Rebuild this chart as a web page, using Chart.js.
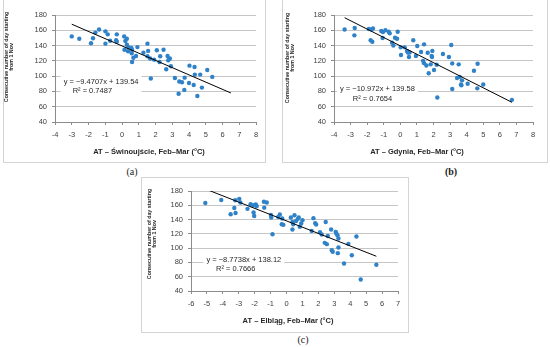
<!DOCTYPE html>
<html>
<head>
<meta charset="utf-8">
<script src="https://cdn.jsdelivr.net/npm/chart.js@4.4.0/dist/chart.umd.min.js"></script>
<style>
body { margin: 0; background: #fff; width: 550px; height: 347px; overflow: hidden; position: relative; }
.box { position: absolute; border: 1px solid #d4d4d4; box-sizing: border-box; }
canvas { position: absolute; }
.cap { position: absolute; font-family: "Liberation Serif", serif; font-size: 10px; color: #222; transform: translateX(-50%); }
</style>
</head>
<body>
<div class="box" style="left:3px;top:-1px;width:263px;height:164px"></div>
<div class="box" style="left:282px;top:-1px;width:266px;height:164px"></div>
<div class="box" style="left:141px;top:177px;width:268px;height:156px"></div>
<canvas id="ca" width="261" height="162" style="left:4px;top:0"></canvas>
<canvas id="cb" width="264" height="162" style="left:283px;top:0"></canvas>
<canvas id="cc" width="266" height="154" style="left:142px;top:178px"></canvas>
<div class="cap" style="left:132px;top:166px">(a)</div>
<div class="cap" style="left:451px;top:166px;font-weight:bold">(b)</div>
<div class="cap" style="left:303px;top:334px">(c)</div>
<script>
// (a) Świnoujście
const swiX = [-3.0, -2.55, -1.85, -1.73, -1.59, -1.37, -0.99, -0.99, -0.85, -0.71, -0.35, -0.31, -0.31, 0.13, 0.15, 0.2, 0.29, 0.29, 0.36, 0.38,
    0.56, 0.6, 0.58, 0.68, 0.6, 0.84, 0.92, 1.28, 1.52, 1.56, 1.52, 1.68, 1.72, 1.92, 2.08, 2.24, 2.28, 2.48, 2.64, 2.72,
    2.76, 2.86, 2.92, 3.16, 3.42, 3.38, 3.58, 3.72, 3.74, 4.03, 4.0, 4.28, 4.33, 4.35, 4.5, 4.67, 4.77, 5.09, 5.39];
const swiY = [152, 149, 143, 149.5, 157, 161, 158.6, 142.5, 154.7, 146.4, 147, 154.7, 145, 152, 134.6, 146, 149, 141, 132.5, 138,
    137, 134.6, 130, 124, 118.5, 126.4, 138, 130.7, 142.5, 133, 126, 123, 97, 121.6, 133.8, 118.5, 126, 134.6, 109, 126.4,
    120.7, 123, 113, 97.6, 93, 77, 92, 82, 98, 113.7, 91, 88.4, 112, 102, 74, 102, 85, 108, 99];
const swiFit = { a: -9.4707, b: 139.54, r2: "0.7487", from: -3.0, to: 6.5 };

// (b) Gdynia
const gdyX = [-3.36, -2.75, -2.77, -1.9, -1.73, -1.65, -1.79, -1.69, -1.15, -1.05, -0.9, -1.07, -0.7, -0.64, -0.16, -0.5, -0.42, -0.32, -0.2, 0.02,
    0.04, 0.26, 0.4, 0.46, 0.56, 0.52, 0.78, 0.94, 1.02, 1.25, 1.37, 1.43, 1.43, 1.57, 1.65, 1.71, 1.83, 1.89, 1.93, 1.91,
    2.03, 2.19, 2.23, 2.57, 2.93, 3.07, 3.13, 3.13, 3.42, 3.52, 3.58, 3.66, 3.68, 3.72, 4.06, 4.44, 4.64, 4.66, 5.0, 6.73];
const gdyY = [161, 163, 153.4, 161.7, 161, 162.5, 147, 145, 159, 157.8, 160, 150, 158, 156, 158, 143.8, 140, 150.3, 149, 137.7,
    127.7, 137.7, 133, 131, 131, 125, 147, 126.4, 139.4, 131.6, 120, 141.6, 117, 114, 130.7, 103.7, 115.4, 126.4, 133, 125,
    108, 115, 72, 129, 125, 140.7, 116.7, 83.2, 97.6, 115.4, 99, 89, 88, 94.5, 90, 107, 84, 116.3, 89, 69];
const gdyFit = { a: -10.972, b: 139.58, r2: "0.7654", from: -3.36, to: 6.73 };

// (c) Elbląg
const elbX = [-5.1, -4.1, -3.51, -3.28, -3.2, -3.22, -2.97, -2.9, -2.45, -2.26, -2.1, -2.07, -2.03, -1.93, -1.88, -1.42, -1.4, -1.24, -0.98, -0.96,
    -0.88, -0.42, -0.52, -0.27, -0.3, -0.2, 0.27, 0.37, 0.42, 0.37, 0.5, 0.6, 0.71, 0.77, 0.83, 0.92, 1.0, 1.58, 1.69, 1.86,
    1.8, 2.1, 2.21, 2.4, 2.46, 2.53, 2.59, 2.8, 2.84, 2.9, 3.09, 3.13, 3.2, 3.26, 3.26, 3.22, 3.61, 3.88, 4.1, 4.39, 4.66, 5.64];
const elbY = [163.3, 167.4, 147.4, 156.3, 149.3, 167, 169, 164, 155, 161.4, 160, 149.8, 145, 161, 158.6, 165, 156.7, 164, 146.5, 143,
    119.5, 147, 143.7, 141.4, 133.5, 132.6, 143, 136.7, 133.5, 126, 146, 138, 141, 142.8, 130, 134.4, 139, 124, 142, 133,
    135, 122.3, 119, 107.4, 136.7, 105.6, 117, 126, 97, 95, 122.8, 120.5, 118, 113.5, 101, 93, 78.6, 106, 90, 116.3, 56, 76.7];
const elbFit = { a: -8.7738, b: 138.12, r2: "0.7666", from: -5.1, to: 5.64 };

const yTitle = ["Consecutive number of day starting", "from 1 Nov"];

Chart.defaults.font.family = "'Liberation Sans', Arial, sans-serif";

const textPlugin = {
    id: "texts",
    beforeDatasetsDraw(chart, args, o) {
        const ctx = chart.ctx;
        const sx = chart.scales.x, sy = chart.scales.y;
        ctx.save();
        ctx.font = "7.5px 'Liberation Sans'";
        const w = ctx.measureText(o.eq).width;
        const cx = sx.getPixelForValue(o.eqAt[0]);
        const y1 = sy.getPixelForValue(o.eqAt[1]);
        const y2 = sy.getPixelForValue(o.r2At[1]);
        ctx.fillStyle = "#fff";
        ctx.fillRect(cx - w / 2 - 3, y1 - 6, w + 6, y2 - y1 + 12);
        ctx.restore();
    },
    afterDatasetsDraw(chart, args, o) {
        const ctx = chart.ctx;
        const sx = chart.scales.x, sy = chart.scales.y;
        ctx.save();
        ctx.fillStyle = "#262626";
        ctx.textAlign = "center";
        ctx.textBaseline = "middle";
        ctx.font = "7.5px 'Liberation Sans'";
        ctx.fillText(o.eq, sx.getPixelForValue(o.eqAt[0]), sy.getPixelForValue(o.eqAt[1]));
        ctx.fillText("R² = " + o.r2, sx.getPixelForValue(o.r2At[0]), sy.getPixelForValue(o.r2At[1]));

        ctx.font = "bold 7.5px 'Liberation Sans'";
        ctx.fillText(o.xTitle, o.xTitlePos[0], o.xTitlePos[1]);

        ctx.font = "bold 5.3px 'Liberation Sans'";
        yTitle.forEach((t, i) => {
            ctx.save();
            ctx.translate(o.yTitleX[i], o.yTitleY);
            ctx.rotate(-Math.PI / 2);
            ctx.fillText(t, 0, 0);
            ctx.restore();
        });
        ctx.restore();
    }
};

function fmt(n) {
    return n.toString().replace("-", "−");
}

function makeChart(id, xs, ys, fit, cfg) {

    const pts = xs.map((x, i) => ({ x: x, y: ys[i] }));
    const trend = [fit.from, fit.to].map(x => ({ x: x, y: fit.a * x + fit.b }));

    cfg.eq = "y = " + fmt(fit.a) + "x + " + fit.b;
    cfg.r2 = fit.r2;

    return new Chart(document.getElementById(id), {
        type: "scatter",
        data: {
            datasets: [
                {
                    data: trend,
                    showLine: true,
                    borderColor: "#000",
                    borderWidth: 1,
                    pointRadius: 0
                },
                {
                    data: pts,
                    backgroundColor: "#2f82c8",
                    borderWidth: 0,
                    pointRadius: 2.2
                }
            ]
        },
        options: {
            responsive: false,
            animation: false,
            events: [],
            layout: { padding: { top: cfg.top, right: cfg.right, left: 0, bottom: 0 } },
            plugins: {
                legend: { display: false },
                tooltip: { enabled: false },
                texts: cfg
            },
            scales: {
                x: {
                    type: "linear",
                    min: cfg.xmin,
                    max: cfg.xmax,
                    afterFit: s => { s.height = cfg.xh; },
                    ticks: { stepSize: 1, autoSkip: false, color: "#404040", font: { size: 7.5 }, padding: 5, maxRotation: 0 },
                    grid: { drawOnChartArea: false, tickLength: 3, tickColor: "#8c8c8c" },
                    border: { color: "#8c8c8c" }
                },
                y: {
                    min: 40,
                    max: 180,
                    afterFit: s => { s.width = cfg.left; },
                    ticks: { stepSize: 20, color: "#404040", font: { size: 7.5 }, padding: 5 },
                    grid: { color: "#c6c6c6", tickLength: 3, tickColor: "#8c8c8c" },
                    border: { color: "#8c8c8c" }
                }
            }
        },
        plugins: [textPlugin]
    });
}

makeChart("ca", swiX, swiY, swiFit, {
    left: 51, right: 9, top: 15, xh: 40, xmin: -4, xmax: 8,
    eqAt: [-1.25, 92.3], r2At: [-1.77, 80.5],
    xTitle: "AT – Świnoujście, Feb–Mar (°C)", xTitlePos: [145, 152],
    yTitleX: [3, 7.6], yTitleY: 57
});

makeChart("cb", gdyX, gdyY, gdyFit, {
    left: 51, right: 14, top: 15, xh: 40, xmin: -4, xmax: 8,
    eqAt: [-1.38, 83.1], r2At: [-1.68, 70],
    xTitle: "AT – Gdynia, Feb–Mar (°C)", xTitlePos: [134, 151.5],
    yTitleX: [4.5, 9.5], yTitleY: 58
});

makeChart("cc", elbX, elbY, elbFit, {
    left: 49, right: 10, top: 13, xh: 41, xmin: -6, xmax: 7,
    eqAt: [-2.68, 83.3], r2At: [-3.19, 70.3],
    xTitle: "AT – Elbląg, Feb–Mar (°C)", xTitlePos: [146, 142.7],
    yTitleX: [7.5, 12.3], yTitleY: 56
});
</script>
</body>
</html>
